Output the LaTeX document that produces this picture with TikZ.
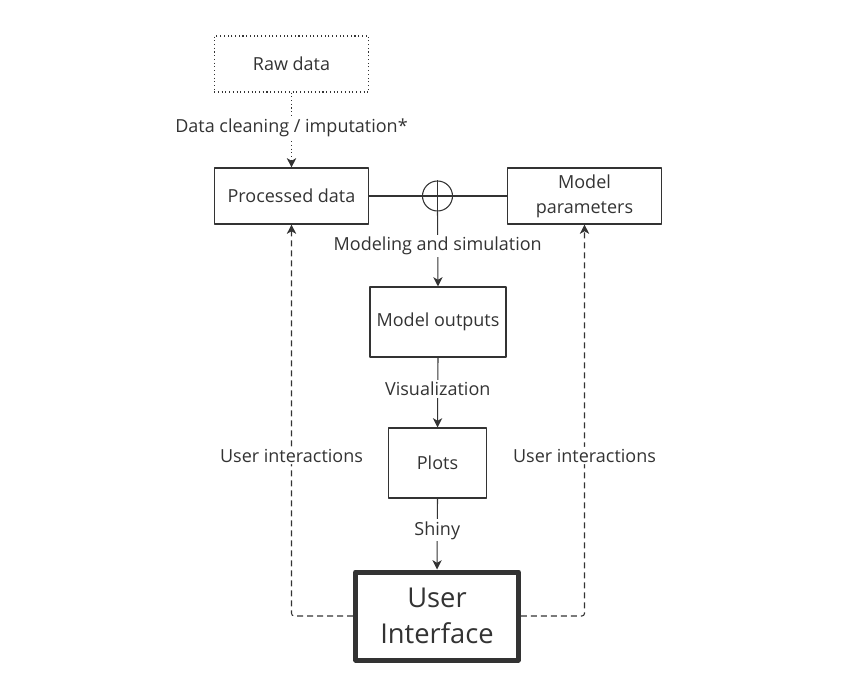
\documentclass[tikz,border=0pt]{standalone}
\usepackage{fontspec}
\setmainfont{Open Sans}
\usetikzlibrary{arrows.meta}
\begin{document}
\begin{tikzpicture}[x=0.75pt, y=-0.75pt, line join=round, color=black!80, line width=0.8pt,
	>={Stealth[length=7pt, width=7pt, inset=2pt]}, font=\fontsize{13.5}{18.5}\selectfont,
	box/.style={draw, minimum width=116pt, minimum height=42pt, align=center},
	lbl/.style={fill=white, inner sep=1.5pt},
	usr/.style={dash pattern=on 4.5pt off 3pt, rounded corners=2pt, ->}]
	\useasboundingbox (0,0) rectangle (846,689);
	\node[box, dotted] (raw) at (291.5,64) {Raw data};
	\node[box] (proc) at (291.5,196) {Processed data};
	\node[box] (par) at (584.5,196) {Model\\parameters};
	\node[draw, circle, minimum size=22.5pt, inner sep=0pt] (sum) at (437.5,196) {};
	\node[box, minimum width=102pt, minimum height=52.5pt] (out) at (438,322) {Model outputs};
	\node[box, minimum width=74pt, minimum height=52.5pt] (plot) at (437.5,463) {Plots};
	\node[draw, line width=3.75pt, minimum width=122pt, minimum height=66pt, align=center,
		font=\fontsize{20.5}{27}\selectfont] (ui) at (437,616) {User\\Interface};
	\draw (proc.east) -- (par.west);
	\draw (sum.north) -- (sum.south);
	\draw[->] (sum.south) -- (out.north) node[lbl, pos=0.46]{Modeling and simulation};
	\draw[dotted, ->] (raw.south) -- (proc.north) node[lbl, pos=0.47]{Data cleaning / imputation*};
	\draw[->] (out.south) -- (plot.north) node[lbl, pos=0.45]{Visualization};
	\draw[->] (plot.south) -- (ui.north) node[lbl, pos=0.45]{Shiny};
	\draw[usr] (ui.west) -| (proc.south) node[lbl, pos=0.705]{User interactions};
	\draw[usr] (ui.east) -| (par.south) node[lbl, pos=0.705]{User interactions};
\end{tikzpicture}
\end{document}
